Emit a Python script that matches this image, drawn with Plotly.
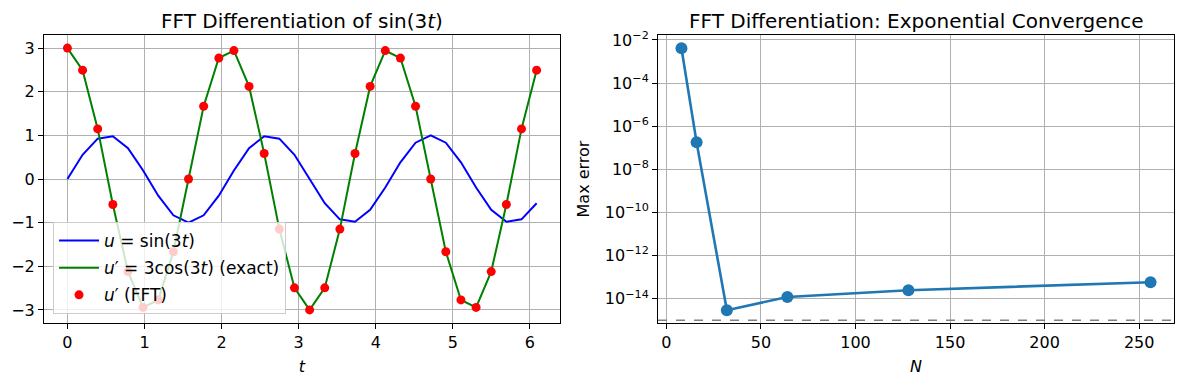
import plotly.graph_objects as go
from plotly.subplots import make_subplots

# ---- Left panel data: sample points t_k and values ----
t_vals = [0.0, 0.19635, 0.39270, 0.58905, 0.78540, 0.98175, 1.17810, 1.37445,
          1.57080, 1.76715, 1.96350, 2.15984, 2.35619, 2.55254, 2.74889, 2.94524,
          3.14159, 3.33794, 3.53429, 3.73064, 3.92699, 4.12334, 4.31969, 4.51604,
          4.71239, 4.90874, 5.10509, 5.30144, 5.49779, 5.69414, 5.89049, 6.08684]
u_vals = [0.0, 0.5556, 0.9239, 0.9808, 0.7071, 0.1951, -0.3827, -0.8315,
          -1.0, -0.8315, -0.3827, 0.1951, 0.7071, 0.9808, 0.9239, 0.5556,
          0.0, -0.5556, -0.9239, -0.9808, -0.7071, -0.1951, 0.3827, 0.8315,
          1.0, 0.8315, 0.3827, -0.1951, -0.7071, -0.9808, -0.9239, -0.5556]
du_exact = [3.0, 2.4944, 1.1481, -0.5853, -2.1213, -2.9424, -2.7716, -1.6667,
            0.0, 1.6667, 2.7716, 2.9424, 2.1213, 0.5853, -1.1481, -2.4944,
            -3.0, -2.4944, -1.1481, 0.5853, 2.1213, 2.9424, 2.7716, 1.6667,
            0.0, -1.6667, -2.7716, -2.9424, -2.1213, -0.5853, 1.1481, 2.4944]
du_fft = list(du_exact)

# ---- Right panel data ----
N_vals = [8, 16, 32, 64, 128, 256]
max_err = [4.1e-3, 1.78e-7, 2.9e-15, 1.2e-14, 2.45e-14, 5.8e-14]
ref_level = [1e-15]

left_xticks = [0, 1, 2, 3, 4, 5, 6]
left_yticks = [-3, -2, -1, 0, 1, 2, 3]
right_xticks = [0, 50, 100, 150, 200, 250]
right_yexp = [-2, -4, -6, -8, -10, -12, -14]

FONT = "DejaVu Sans"
W, H = 1183, 384
ml, mr, mt, mb = 44, 9, 35, 61
pw = W - ml - mr

fig = make_subplots(rows=1, cols=2)

fig.add_trace(go.Scatter(x=t_vals, y=u_vals, mode="lines",
                         line=dict(color="blue", width=2), legendgroup="a",
                         name="<i>u</i> = sin(3<i>t</i>)"), row=1, col=1)
fig.add_trace(go.Scatter(x=t_vals, y=du_exact, mode="lines",
                         line=dict(color="green", width=2), legendgroup="b",
                         name="<i>u</i>′ = 3cos(3<i>t</i>) (exact)"), row=1, col=1)
fig.add_trace(go.Scatter(x=t_vals, y=du_fft, mode="markers",
                         marker=dict(color="red", size=9), legendgroup="c",
                         name="<i>u</i>′ (FFT)"), row=1, col=1)

fig.add_trace(go.Scatter(x=N_vals, y=max_err, mode="lines+markers",
                         line=dict(color="#1f77b4", width=2.6),
                         marker=dict(color="#1f77b4", size=12),
                         showlegend=False), row=1, col=2)

fig.add_shape(type="line", xref="x2 domain", yref="y2",
              x0=0, x1=1, y0=ref_level[0], y1=ref_level[0],
              line=dict(color="gray", width=1.6, dash="dash"))

axis_common = dict(showline=True, linecolor="black", linewidth=1, mirror=True,
                   ticks="outside", ticklen=5, tickcolor="black", automargin=False,
                   showgrid=True, gridcolor="#b0b0b0", gridwidth=0.8,
                   zeroline=False, tickfont=dict(size=16, color="black", family=FONT))

d1 = (560 - ml) / pw
d2 = (658 - ml) / pw

fig.update_xaxes(**axis_common)
fig.update_yaxes(**axis_common)

fig.update_xaxes(domain=[0, d1], range=[-0.304, 6.39], tickvals=left_xticks,
                 title=dict(text="<i>t</i>", font=dict(size=16, family=FONT, color="black"), standoff=9),
                 row=1, col=1)
fig.update_yaxes(range=[-3.3, 3.3], tickvals=left_yticks, row=1, col=1)

fig.update_xaxes(domain=[d2, 1], range=[-4.4, 268.4], tickvals=right_xticks,
                 title=dict(text="<i>N</i>", font=dict(size=16, family=FONT, color="black"), standoff=9),
                 row=1, col=2)
fig.update_yaxes(type="log", range=[-15.13, -1.77],
                 tickvals=[10 ** e for e in right_yexp],
                 ticktext=["10<sup>−%d</sup>" % (-e) for e in right_yexp],
                 title=dict(text="Max error", font=dict(size=16, family=FONT, color="black"), standoff=11),
                 row=1, col=2)

titles = [("FFT Differentiation of sin(3<i>t</i>)", d1 / 2),
          ("FFT Differentiation: Exponential Convergence", (d2 + 1) / 2)]
for txt, xc in titles:
    fig.add_annotation(text=txt, x=xc, y=1, xref="paper", yref="paper",
                       xanchor="center", yanchor="bottom", yshift=0, showarrow=False,
                       font=dict(size=20, family=FONT, color="black"))

fig.update_layout(
    width=W, height=H,
    margin=dict(l=ml, r=mr, t=mt, b=mb),
    paper_bgcolor="white", plot_bgcolor="white",
    font=dict(family=FONT, color="black", size=16),
    showlegend=True,
    legend=dict(x=0.008, y=0.031, xanchor="left", yanchor="bottom",
                bgcolor="rgba(255,255,255,0.8)", bordercolor="#cccccc", borderwidth=1,
                tracegroupgap=2, itemwidth=40,
                font=dict(size=17, family=FONT, color="black")),
)

fig.write_html("out.html", config={"displayModeBar": False},
               post_script="document.body.style.margin='0';document.body.style.padding='0';")
